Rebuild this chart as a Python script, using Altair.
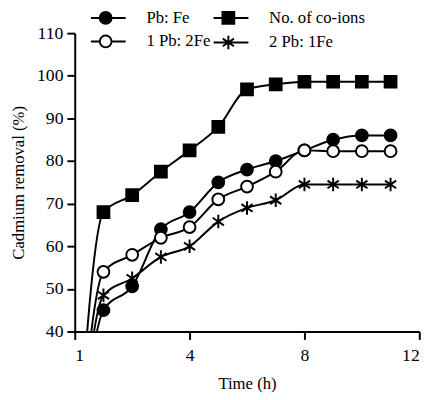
import altair as alt
import pandas as pd

# ---- data ----
time_h = [0, 1, 2, 3, 4, 5, 6, 7, 8, 9, 10, 11]
series_names = ["Pb: Fe", "No. of co-ions", "1 Pb: 2Fe", "2 Pb: 1Fe"]
pb_fe = [0, 45, 50.6, 64, 68, 75, 78, 80, 82.5, 85, 86, 86]
co_ions = [0, 68, 72, 77.5, 82.5, 88, 96.8, 98, 98.6, 98.6, 98.6, 98.6]
pb1_fe2 = [0, 54, 58, 62, 64.5, 71, 74, 77.5, 82.5, 82.3, 82.3, 82.3]
pb2_fe1 = [0, 48.5, 52.5, 57.5, 60, 65.8, 69, 70.8, 74.5, 74.5, 74.5, 74.5]
y_ticks = [40, 50, 60, 70, 80, 90, 100, 110]
x_tick_values = [0, 4, 8, 12]
x_tick_labels = ["1", "4", "8", "12"]

values = [pb_fe, co_ions, pb1_fe2, pb2_fe1]
rows = []
for name, vals in zip(series_names, values):
    for t, v in zip(time_h, vals):
        rows.append({"time": t, "removal": v, "series": name})
df = pd.DataFrame(rows)

FONT = "Liberation Serif, Times New Roman, DejaVu Serif, serif"

star = "M0,-1.15V1.15M-0.95,-0.65L0.95,0.65M-0.95,0.65L0.95,-0.65"
circ = "M-1,0A1,1,0,1,0,1,0A1,1,0,1,0,-1,0Z"
sq = "M-1,-1H1V1H-1Z"
seg = "M-2.5,0H-1M1,0H3.4"
plot_shapes = ["circle", "square", "circle", star]
fills = ["black", "black", "white", "black"]

# legend order: column-major layout, so interleave to read row by row
leg_order = [series_names[0], series_names[2], series_names[1], series_names[3]]
leg_shape_map = {series_names[0]: seg + circ, series_names[1]: seg + sq,
                 series_names[2]: seg + circ, series_names[3]: "M-2.5,0H3.4" + star}
leg_fill_map = dict(zip(series_names, fills))

label_expr = "".join(
    f"datum.value == {v} ? '{l}' : " for v, l in zip(x_tick_values, x_tick_labels)
) + "datum.label"

x = alt.X("time:Q",
          scale=alt.Scale(domain=[0, 12], nice=False),
          axis=alt.Axis(values=x_tick_values, labelExpr=label_expr,
                        title="Time (h)", grid=False, tickSize=8,
                        labelPadding=8, titlePadding=11))
y = alt.Y("removal:Q",
          scale=alt.Scale(domain=[40, 110], nice=False),
          axis=alt.Axis(values=y_ticks, title="Cadmium removal (%)",
                        grid=False, tickSize=8, labelPadding=4,
                        titlePadding=9))

base = alt.Chart(df)

lines = base.mark_line(color="black", strokeWidth=2, clip=True,
                       interpolate="monotone").encode(
    x=x, y=y, detail="series:N")

points = base.mark_point(filled=True, stroke="black", strokeWidth=2,
                         size=144, opacity=1, clip=True).encode(
    x=x, y=y,
    shape=alt.Shape("series:N", scale=alt.Scale(domain=series_names, range=plot_shapes), legend=None),
    fill=alt.Fill("series:N", scale=alt.Scale(domain=series_names, range=fills), legend=None),
)

legend = alt.Legend(title=None, orient="none", legendX=9, legendY=-24,
                    columns=2, gridAlign="none", columnPadding=-5, rowPadding=3,
                    symbolSize=144, symbolStrokeWidth=2,
                    symbolOffset=14, labelOffset=33, symbolOpacity=1,
                    labelFont=FONT, labelFontSize=17, labelColor="black",
                    labelLimit=300, padding=0)

legend_layer = base.transform_filter(alt.datum.time == 0).mark_point(
    filled=True, strokeWidth=2, size=144, opacity=1, clip=True).encode(
    x=x, y=y,
    shape=alt.Shape("series:N", scale=alt.Scale(domain=leg_order, range=[leg_shape_map[s] for s in leg_order]), legend=legend),
    fill=alt.Fill("series:N", scale=alt.Scale(domain=leg_order, range=[leg_fill_map[s] for s in leg_order]), legend=legend),
    stroke=alt.Stroke("series:N", scale=alt.Scale(domain=leg_order, range=["black"] * 4), legend=legend),
)

chart = alt.layer(lines, points, legend_layer).resolve_scale(
    shape="independent", fill="independent", stroke="independent"
).properties(
    width=351, height=304,
    autosize=alt.AutoSizeParams(type="none"),
    padding={"left": 68, "top": 22, "right": 15, "bottom": 60},
).configure_view(stroke=None).configure_axis(
    domainColor="black", domainWidth=2, tickColor="black", tickWidth=2,
    labelFont=FONT, labelFontSize=18, labelColor="black",
    titleFont=FONT, titleFontSize=17, titleColor="black", titleFontWeight="normal",
)

chart.save("out.html", embed_options={"renderer": "svg", "actions": False})
